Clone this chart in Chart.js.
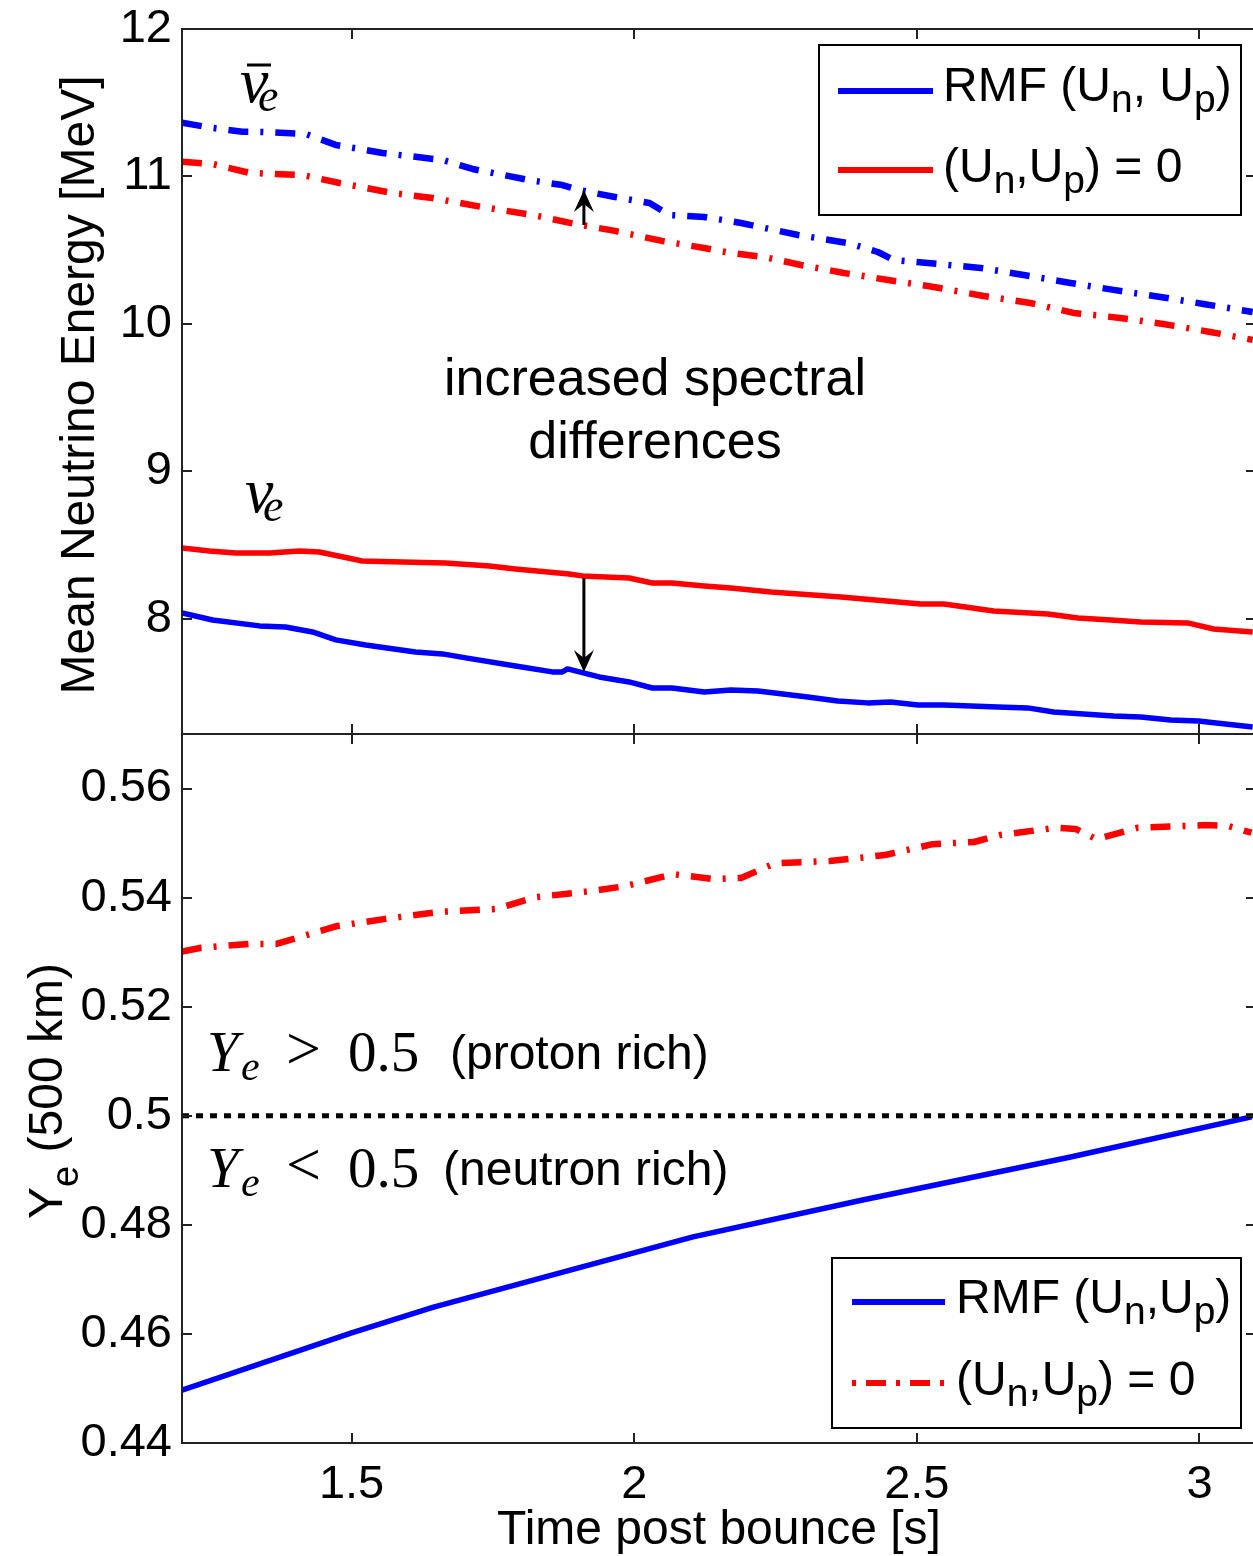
<!DOCTYPE html>
<html>
<head>
<meta charset="utf-8">
<script src="https://cdn.jsdelivr.net/npm/chart.js@4.4.1/dist/chart.umd.min.js"></script>
<style>
  html, body { margin: 0; padding: 0; background: #fff; overflow: hidden; }
  #wrap { position: relative; width: 1253px; height: 1556px; overflow: hidden; }
  #energy { position: absolute; left: 0; top: 0; width: 1262px; height: 735px; }
  #ye { position: absolute; left: 0; top: 734px; width: 1262px; height: 822px; }
</style>
</head>
<body>
<div id="wrap">
  <canvas id="energy" width="1262" height="735"></canvas>
  <canvas id="ye" width="1262" height="822"></canvas>
</div>
<script>
var timeTicks = [1.5, 2, 2.5, 3];
var energyTicks = [8, 9, 10, 11, 12];
var yeTicks = [0.44, 0.46, 0.48, 0.5, 0.52, 0.54, 0.56];

// anti electron neutrino mean energy, with RMF potentials
var tBarRmf = [1.20, 1.254, 1.307, 1.343, 1.419, 1.472, 1.555, 1.661, 1.714, 1.814, 1.873, 1.903, 1.966, 2.027, 2.062, 2.124, 2.189, 2.290, 2.378, 2.431, 2.459, 2.537, 2.613, 2.689, 2.772, 2.848, 2.931, 3.007, 3.094];
var eBarRmf = [11.365, 11.329, 11.304, 11.302, 11.288, 11.214, 11.159, 11.112, 11.051, 10.976, 10.942, 10.908, 10.861, 10.820, 10.739, 10.725, 10.685, 10.603, 10.549, 10.488, 10.434, 10.407, 10.380, 10.332, 10.278, 10.231, 10.183, 10.136, 10.081];

// anti electron neutrino, potentials switched off
var tBarFree = [1.20, 1.254, 1.320, 1.413, 1.479, 1.572, 1.643, 1.731, 1.820, 1.896, 1.966, 2.049, 2.124, 2.171, 2.230, 2.295, 2.371, 2.449, 2.530, 2.618, 2.701, 2.777, 2.860, 2.936, 3.019, 3.094];
var eBarFree = [11.100, 11.085, 11.024, 11.010, 10.956, 10.888, 10.854, 10.793, 10.739, 10.678, 10.631, 10.563, 10.515, 10.481, 10.454, 10.400, 10.346, 10.298, 10.251, 10.190, 10.142, 10.075, 10.041, 10.000, 9.946, 9.892];

// electron neutrino, potentials switched off
var tNuFree = [1.20, 1.249, 1.295, 1.355, 1.408, 1.443, 1.519, 1.590, 1.666, 1.744, 1.790, 1.885, 1.908, 1.991, 2.032, 2.067, 2.124, 2.171, 2.242, 2.366, 2.507, 2.548, 2.636, 2.732, 2.785, 2.843, 2.896, 2.979, 3.025, 3.094];
var eNuFree = [8.481, 8.461, 8.447, 8.447, 8.461, 8.454, 8.393, 8.386, 8.380, 8.359, 8.339, 8.305, 8.292, 8.278, 8.244, 8.244, 8.224, 8.210, 8.183, 8.149, 8.102, 8.102, 8.054, 8.034, 8.007, 7.993, 7.980, 7.973, 7.932, 7.912];

// electron neutrino, with RMF potentials
var tNuRmf = [1.20, 1.254, 1.337, 1.383, 1.431, 1.472, 1.525, 1.613, 1.661, 1.702, 1.790, 1.855, 1.873, 1.882, 1.938, 1.991, 2.032, 2.067, 2.124, 2.171, 2.219, 2.307, 2.360, 2.413, 2.454, 2.502, 2.548, 2.643, 2.696, 2.742, 2.848, 2.896, 2.949, 2.998, 3.094];
var eNuRmf = [8.041, 7.993, 7.953, 7.946, 7.912, 7.858, 7.824, 7.776, 7.763, 7.736, 7.681, 7.641, 7.641, 7.661, 7.607, 7.573, 7.532, 7.532, 7.505, 7.519, 7.512, 7.471, 7.444, 7.431, 7.437, 7.417, 7.417, 7.403, 7.397, 7.369, 7.342, 7.336, 7.315, 7.308, 7.268];

// electron fraction at 500 km
var tYeRmf = [1.20, 1.50, 1.645, 2.104, 2.406, 2.770, 3.092];
var yeRmf = [0.4497, 0.4602, 0.4649, 0.4778, 0.4846, 0.4924, 0.4998];
var tYeFree = [1.20, 1.234, 1.318, 1.367, 1.475, 1.560, 1.657, 1.754, 1.827, 1.924, 1.984, 2.069, 2.141, 2.189, 2.249, 2.346, 2.443, 2.528, 2.601, 2.648, 2.746, 2.781, 2.818, 2.890, 3.011, 3.048, 3.092];
var yeFree = [0.5301, 0.5308, 0.5315, 0.5315, 0.5348, 0.5361, 0.5374, 0.5379, 0.5401, 0.5412, 0.5421, 0.5443, 0.5434, 0.5436, 0.5463, 0.5467, 0.5478, 0.5498, 0.5502, 0.5515, 0.5528, 0.5526, 0.5507, 0.5528, 0.5533, 0.5532, 0.5519];
var tHalf = [1.2, 3.1];
var yeHalf = [0.5, 0.5];

// arrows marking the spectral gap
var arrowT = 1.911;
var barArrow = [10.671, 10.908];
var nuArrow = [8.278, 7.641];

var SANS = '"Liberation Sans", Arial, Helvetica, sans-serif';
var SERIF = '"Liberation Serif", "Times New Roman", serif';
var BLUE = '#0000ff';
var RED = '#ff0000';
var dashDot = [20, 12, 3, 12];

function pts(xs, ys) {
  return xs.map(function (x, i) { return { x: x, y: ys[i] }; });
}

function line(data, color, width, dash) {
  return {
    data: data,
    borderColor: color,
    borderWidth: width,
    borderDash: dash || [],
    borderCapStyle: 'butt',
    borderJoinStyle: 'round',
    pointRadius: 0,
    fill: false,
    tension: 0
  };
}

function fixedTicks(list) {
  return function (s) {
    s.ticks = list.map(function (v) { return { value: v }; });
  };
}

function yScale(min, max, list) {
  return {
    type: 'linear',
    min: min,
    max: max,
    grid: { display: false, drawTicks: false },
    border: { display: false },
    afterBuildTicks: fixedTicks(list),
    afterFit: function (s) { s.width = 182; s.paddingTop = 0; s.paddingBottom = 0; },
    ticks: {
      color: '#000',
      padding: 10,
      font: { family: SANS, size: 47 },
      callback: function (v) { return String(v); }
    }
  };
}

// text with subscripts, parts = [{t, sub}]
function drawRich(ctx, parts, x, y, size, subSize, drop) {
  parts.forEach(function (p) {
    ctx.font = (p.sub ? subSize : size) + 'px ' + SANS;
    ctx.fillText(p.t, x, y + (p.sub ? drop : 0));
    x += ctx.measureText(p.t).width;
  });
  return x;
}

function richWidth(ctx, parts, size, subSize) {
  var w = 0;
  parts.forEach(function (p) {
    ctx.font = (p.sub ? subSize : size) + 'px ' + SANS;
    w += ctx.measureText(p.t).width;
  });
  return w;
}

function drawLegend(ctx, box, entries) {
  ctx.save();
  ctx.fillStyle = '#fff';
  ctx.fillRect(box[0], box[1], box[2] - box[0], box[3] - box[1]);
  ctx.strokeStyle = '#000';
  ctx.lineWidth = 2;
  ctx.strokeRect(box[0], box[1], box[2] - box[0], box[3] - box[1]);
  entries.forEach(function (e) {
    ctx.strokeStyle = e.color;
    ctx.lineWidth = 6;
    ctx.setLineDash(e.dash || []);
    ctx.beginPath();
    ctx.moveTo(e.x0, e.y);
    ctx.lineTo(e.x1, e.y);
    ctx.stroke();
    ctx.setLineDash([]);
    ctx.fillStyle = '#000';
    ctx.textBaseline = 'alphabetic';
    ctx.textAlign = 'left';
    drawRich(ctx, e.label, e.tx, e.ty, 48, 39, 11);
  });
  ctx.restore();
}

function drawArrow(ctx, x, yFrom, yTo) {
  var dir = yTo < yFrom ? -1 : 1;
  ctx.strokeStyle = '#000';
  ctx.fillStyle = '#000';
  ctx.lineWidth = 3;
  ctx.beginPath();
  ctx.moveTo(x, yFrom);
  ctx.lineTo(x, yTo - dir * 12);
  ctx.stroke();
  ctx.beginPath();
  ctx.moveTo(x, yTo);
  ctx.lineTo(x - 10, yTo - dir * 22);
  ctx.lineTo(x, yTo - dir * 14);
  ctx.lineTo(x + 10, yTo - dir * 22);
  ctx.closePath();
  ctx.fill();
}

// box round the axes with inward ticks on all four sides
function framePlugin(xList, yList) {
  return {
    id: 'frame',
    afterDatasetsDraw: function (chart) {
      var a = chart.chartArea, ctx = chart.ctx;
      var xs = chart.scales.x, ys = chart.scales.y;
      ctx.save();
      ctx.strokeStyle = '#222';
      ctx.lineWidth = 2;
      ctx.beginPath();
      xList.forEach(function (v) {
        var px = Math.round(xs.getPixelForValue(v));
        ctx.moveTo(px, a.top); ctx.lineTo(px, a.top + 10);
        ctx.moveTo(px, a.bottom); ctx.lineTo(px, a.bottom - 10);
      });
      yList.forEach(function (v) {
        var py = Math.round(ys.getPixelForValue(v));
        ctx.moveTo(a.left, py); ctx.lineTo(a.left + 10, py);
        ctx.moveTo(a.right, py); ctx.lineTo(a.right - 10, py);
      });
      ctx.stroke();
      ctx.strokeRect(a.left, a.top, a.right - a.left, a.bottom - a.top);
      ctx.restore();
    }
  };
}

var labelRmfTop = [{ t: 'RMF (U' }, { t: 'n', sub: true }, { t: ', U' }, { t: 'p', sub: true }, { t: ')' }];
var labelRmf = [{ t: 'RMF (U' }, { t: 'n', sub: true }, { t: ',U' }, { t: 'p', sub: true }, { t: ')' }];
var labelFree = [{ t: '(U' }, { t: 'n', sub: true }, { t: ',U' }, { t: 'p', sub: true }, { t: ') = 0' }];

var energyDecor = {
  id: 'energyDecor',
  afterDraw: function (chart) {
    var ctx = chart.ctx, xs = chart.scales.x, ys = chart.scales.y;
    var ax = xs.getPixelForValue(arrowT);
    ctx.save();
    drawArrow(ctx, ax, ys.getPixelForValue(barArrow[0]), ys.getPixelForValue(barArrow[1]));
    drawArrow(ctx, ax, ys.getPixelForValue(nuArrow[0]), ys.getPixelForValue(nuArrow[1]));

    ctx.fillStyle = '#000';
    ctx.textBaseline = 'alphabetic';

    // axis title
    ctx.save();
    ctx.translate(94, 385);
    ctx.rotate(-Math.PI / 2);
    ctx.textAlign = 'center';
    ctx.font = '48px ' + SANS;
    ctx.fillText('Mean Neutrino Energy [MeV]', 0, 0);
    ctx.restore();

    // neutrino symbols
    ctx.textAlign = 'left';
    ctx.font = 'italic 64px ' + SERIF;
    ctx.fillText('\u03bd', 240, 102);
    ctx.fillText('\u03bd', 245, 512);
    ctx.font = 'italic 46px ' + SERIF;
    ctx.fillText('e', 258, 111);
    ctx.fillText('e', 263, 521);
    ctx.lineWidth = 3;
    ctx.strokeStyle = '#000';
    ctx.beginPath();
    ctx.moveTo(247, 65);
    ctx.lineTo(271, 65);
    ctx.stroke();

    ctx.textAlign = 'center';
    ctx.font = '52px ' + SANS;
    ctx.fillText('increased spectral', 655, 395);
    ctx.fillText('differences', 655, 458);
    ctx.restore();

    drawLegend(ctx, [819, 45, 1241, 215], [
      { color: BLUE, x0: 838, x1: 933, y: 91, tx: 943, ty: 101, label: labelRmfTop },
      { color: RED, x0: 838, x1: 933, y: 170, tx: 943, ty: 182, label: labelFree }
    ]);
  }
};

var yeDecor = {
  id: 'yeDecor',
  afterDraw: function (chart) {
    var ctx = chart.ctx;
    ctx.save();
    ctx.fillStyle = '#000';
    ctx.textBaseline = 'alphabetic';

    // axis title, Y_e (500 km)
    var title = [{ t: 'Y' }, { t: 'e', sub: true }, { t: ' (500 km)' }];
    ctx.save();
    ctx.translate(62, 357);
    ctx.rotate(-Math.PI / 2);
    ctx.textAlign = 'left';
    var w = richWidth(ctx, title, 48, 38);
    drawRich(ctx, title, -w / 2, 0, 48, 38, 16);
    ctx.restore();

    // region labels
    var rows = [
      { y: 337, rel: '>', word: '(proton rich)', wx: 450 },
      { y: 453, rel: '<', word: '(neutron rich)', wx: 443 }
    ];
    ctx.textAlign = 'left';
    rows.forEach(function (r) {
      ctx.font = 'italic 57px ' + SERIF;
      ctx.fillText('Y', 207, r.y);
      ctx.font = 'italic 42px ' + SERIF;
      ctx.fillText('e', 241, r.y + 9);
      ctx.font = '62px ' + SERIF;
      ctx.fillText(r.rel, 286, r.y - 2);
      ctx.font = '57px ' + SERIF;
      ctx.fillText('0.5', 348, r.y);
      ctx.font = '48px ' + SANS;
      ctx.fillText(r.word, r.wx, r.y - 2);
    });
    ctx.restore();

    drawLegend(ctx, [832, 524, 1241, 694], [
      { color: BLUE, x0: 852, x1: 945, y: 568, tx: 956, ty: 579, label: labelRmf },
      { color: RED, x0: 852, x1: 945, y: 649, tx: 956, ty: 661, label: labelFree, dash: [4, 10, 20, 10] }
    ]);
  }
};

new Chart(document.getElementById('energy'), {
  type: 'line',
  data: {
    datasets: [
      line(pts(tBarFree, eBarFree), RED, 6.5, dashDot),
      line(pts(tBarRmf, eBarRmf), BLUE, 6.5, dashDot),
      line(pts(tNuFree, eNuFree), RED, 5.5),
      line(pts(tNuRmf, eNuRmf), BLUE, 5.5)
    ]
  },
  options: {
    responsive: false,
    animation: false,
    layout: { padding: { top: 29, right: 6, bottom: 1, left: 0 } },
    plugins: { legend: { display: false }, tooltip: { enabled: false } },
    scales: {
      x: { type: 'linear', min: 1.2, max: 3.1, display: false },
      y: yScale(7.22, 12, energyTicks)
    }
  },
  plugins: [framePlugin(timeTicks, energyTicks), energyDecor]
});

new Chart(document.getElementById('ye'), {
  type: 'line',
  data: {
    datasets: [
      line(pts(tHalf, yeHalf), '#000', 5, [7, 7]),
      line(pts(tYeFree, yeFree), RED, 6.5, dashDot),
      line(pts(tYeRmf, yeRmf), BLUE, 5.5)
    ]
  },
  options: {
    responsive: false,
    animation: false,
    layout: { padding: { top: 0, right: 6, bottom: 0, left: 0 } },
    plugins: { legend: { display: false }, tooltip: { enabled: false } },
    scales: {
      x: {
        type: 'linear',
        min: 1.2,
        max: 3.1,
        grid: { display: false, drawTicks: false },
        border: { display: false },
        afterBuildTicks: fixedTicks(timeTicks),
        afterFit: function (s) { s.height = 113; s.paddingLeft = 0; s.paddingRight = 0; },
        ticks: {
          color: '#000',
          padding: 14,
          maxRotation: 0,
          autoSkip: false,
          font: { family: SANS, size: 47 },
          callback: function (v) { return String(v); }
        },
        title: {
          display: true,
          text: 'Time post bounce [s]',
          color: '#000',
          font: { family: SANS, size: 48 },
          padding: { top: 0, bottom: -4 }
        }
      },
      y: yScale(0.44, 0.57, yeTicks)
    }
  },
  plugins: [framePlugin(timeTicks, yeTicks), yeDecor]
});
</script>
</body>
</html>
